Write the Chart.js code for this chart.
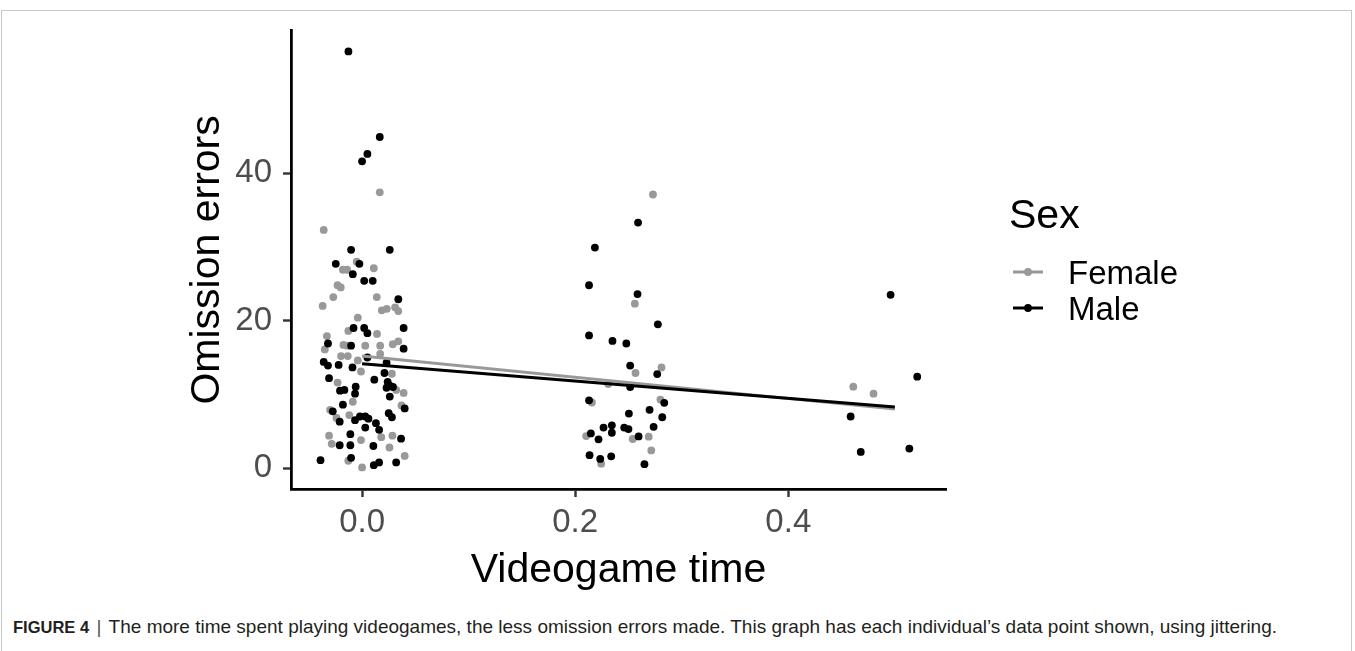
<!DOCTYPE html>
<html>
<head>
<meta charset="utf-8">
<script src="https://cdn.jsdelivr.net/npm/chart.js@4.4.1/dist/chart.umd.min.js"></script>
<style>
  html, body { margin: 0; padding: 0; background: #fff; }
  body { width: 1355px; height: 651px; position: relative; overflow: hidden; font-family: "Liberation Sans", Arial, sans-serif; }
  #frame { position: absolute; left: 1px; top: 10px; width: 1351px; height: 660px; border: 1px solid #c8c8c8; box-sizing: border-box; }
  #wrap { position: absolute; left: 0; top: 0; width: 1355px; height: 600px; }
  #caption { position: absolute; left: 13px; top: 616px; font-size: 19px; color: #231f20; white-space: nowrap; }
  #caption b { font-weight: bold; font-size: 16.5px; }
  #caption .sep { color: #555; padding: 0 2px; }
</style>
</head>
<body>
<div id="frame"></div>
<div id="wrap"><canvas id="c" width="1355" height="600"></canvas></div>
<div id="caption"><b>FIGURE 4</b><span class="sep"> | </span>The more time spent playing videogames, the less omission errors made. This graph has each individual’s data point shown, using jittering.</div>
<script>
// ---- data ----
const seriesNames = ["Female", "Male"];
const femaleX = [0.0166,-0.036,-0.005,-0.018,-0.014,0.011,-0.023,-0.020,-0.027,0.0138,-0.037,0.0185,0.0232,0.031,0.034,-0.004,-0.0129,0.014,-0.033,-0.035,-0.0175,-0.014,0.003,0.017,0.017,0.0288,0.034,-0.0197,-0.0134,-0.004,-0.001,0.028,-0.023,0.032,0.039,-0.0087,0.037,-0.030,-0.012,-0.024,0.018,0.0285,-0.031,-0.0285,-0.001,0.0257,0.040,-0.0129,0.0,
  0.273,0.256,0.2566,0.281,0.231,0.2157,0.28,0.2103,0.254,0.269,0.2714,0.2244,
  0.461,0.480];
const femaleY = [37.4,32.3,28.0,26.9,26.9,27.1,24.8,24.5,23.2,23.2,22.0,21.4,21.6,21.8,21.3,20.4,18.6,18.2,17.9,16.1,16.7,16.6,16.6,16.6,15.5,16.8,17.2,15.2,15.2,14.6,13.1,12.8,11.6,10.6,10.2,9.0,8.5,7.9,7.2,6.8,4.2,4.4,4.4,3.3,3.8,2.8,1.66,1.0,0.1,
  37.1,22.3,12.9,13.65,11.4,8.9,9.3,4.35,3.95,4.27,2.4,0.6,
  11.05,10.1];
const maleX = [-0.0128,0.0166,0.005,0.0,-0.0103,0.026,-0.0247,-0.0025,-0.0087,0.002,0.010,0.034,-0.008,0.002,0.039,0.005,-0.032,-0.0103,0.039,0.005,-0.036,-0.032,-0.022,-0.009,0.023,0.021,-0.031,0.0115,0.024,0.026,0.029,0.023,-0.006,-0.0207,-0.0166,-0.0066,0.026,-0.018,0.040,-0.0275,0.025,0.028,-0.002,0.003,0.006,-0.0066,-0.021,0.013,0.003,0.016,-0.011,-0.021,-0.011,0.0106,0.0366,-0.039,-0.0103,0.011,0.016,0.032,
  0.259,0.2185,0.213,0.2585,0.2776,0.213,0.235,0.248,0.2516,0.277,0.2516,0.213,0.2836,0.2504,0.2698,0.2817,0.2736,0.2266,0.2344,0.2344,0.246,0.250,0.2147,0.2219,0.2595,0.2135,0.2235,0.2338,0.265,
  0.496,0.521,0.4585,0.468,0.5136];
const maleY = [56.5,44.9,42.6,41.6,29.6,29.6,27.7,27.7,26.3,25.4,25.4,22.9,19.0,19.0,19.0,18.3,16.9,16.6,16.2,15.0,14.4,13.9,14.0,13.65,14.3,12.9,12.2,12.0,11.7,11.2,11.0,10.9,11.05,10.5,10.6,10.1,9.7,8.6,8.1,7.7,7.45,6.9,7.0,7.0,6.7,6.5,6.3,6.1,5.5,5.2,4.6,3.1,3.1,3.0,4.0,1.08,1.4,0.4,0.77,0.77,
  33.3,29.9,24.8,23.6,19.5,18.0,17.25,16.9,13.9,12.75,11.0,9.2,8.85,7.4,7.9,6.9,5.6,5.5,5.8,4.8,5.5,5.3,4.7,3.9,4.3,1.75,1.25,1.6,0.54,
  23.5,12.4,7.0,2.2,2.65];
// fitted lines (start, end)
const fitX = [0.0, 0.5];
const femaleFitY = [15.2, 8.0];
const maleFitY = [14.15, 8.3];
// ticks
const xTicks = [0.0, 0.2, 0.4];
const yTicks = [0, 20, 40];
const xTitle = "Videogame time";
const yTitle = "Omission errors";
const legendTitle = "Sex";

const GRAY = "#999999", BLACK = "#000000";
const zip = (xs, ys) => xs.map((x, i) => ({x, y: ys[i]}));

const overlay = {
  id: "overlay",
  afterDraw(chart) {
    const ctx = chart.ctx, a = chart.chartArea;
    ctx.save();
    ctx.fillStyle = "#000";
    ctx.font = "41px 'Liberation Sans', Arial, sans-serif";
    ctx.textAlign = "center";
    ctx.textBaseline = "alphabetic";
    ctx.fillText(xTitle, (a.left + a.right) / 2, 582);
    ctx.save();
    ctx.translate(219, (a.top + a.bottom) / 2);
    ctx.rotate(-Math.PI / 2);
    ctx.fillText(yTitle, 0, 0);
    ctx.restore();
    // legend
    ctx.textAlign = "left";
    ctx.fillText(legendTitle, 1009, 228);
    ctx.font = "33px 'Liberation Sans', Arial, sans-serif";
    const cols = [GRAY, BLACK], ys = [272, 308];
    seriesNames.forEach((n, i) => {
      ctx.strokeStyle = cols[i];
      ctx.lineWidth = 3;
      ctx.beginPath(); ctx.moveTo(1013, ys[i]); ctx.lineTo(1043, ys[i]); ctx.stroke();
      ctx.fillStyle = cols[i];
      ctx.beginPath(); ctx.arc(1028, ys[i], 3.9, 0, Math.PI * 2); ctx.fill();
      ctx.fillStyle = "#000";
      ctx.fillText(n, 1068, ys[i] + 12);
    });
    ctx.restore();
  }
};

new Chart(document.getElementById("c"), {
  type: "scatter",
  data: {
    datasets: [
      { type: "line", label: "Male fit", data: zip(fitX, maleFitY), borderColor: BLACK, borderWidth: 3, pointRadius: 0, fill: false, order: 0 },
      { type: "line", label: "Female fit", data: zip(fitX, femaleFitY), borderColor: GRAY, borderWidth: 3, pointRadius: 0, fill: false, order: 1 },
      { label: "Male", data: zip(maleX, maleY), backgroundColor: BLACK, borderWidth: 0, pointRadius: 3.9, order: 2 },
      { label: "Female", data: zip(femaleX, femaleY), backgroundColor: GRAY, borderWidth: 0, pointRadius: 3.9, order: 3 }
    ]
  },
  options: {
    responsive: false,
    devicePixelRatio: 1,
    animation: false,
    events: [],
    layout: { padding: { left: 0, top: 28, right: 409, bottom: 0 } },
    plugins: { legend: { display: false }, tooltip: { enabled: false } },
    scales: {
      x: {
        type: "linear", min: -0.0667, max: 0.548,
        afterBuildTicks: s => { s.ticks = xTicks.map(v => ({ value: v })); },
        afterFit: s => { s.height = 111; },
        grid: { display: true, drawOnChartArea: false, drawTicks: true, tickLength: 8, tickColor: "#333333", tickWidth: 2.4 },
        border: { display: true, color: "#000", width: 2.8 },
        ticks: { color: "#4d4d4d", padding: 6, font: { family: "'Liberation Sans', Arial, sans-serif", size: 33 }, callback: v => Number(v).toFixed(1), maxRotation: 0 }
      },
      y: {
        type: "linear", min: -2.83, max: 59.3,
        afterBuildTicks: s => { s.ticks = yTicks.map(v => ({ value: v })); },
        afterFit: s => { s.width = 291; },
        grid: { display: true, drawOnChartArea: false, drawTicks: true, tickLength: 8, tickColor: "#333333", tickWidth: 2.4 },
        border: { display: true, color: "#000", width: 2.8 },
        ticks: { color: "#4d4d4d", padding: 11, font: { family: "'Liberation Sans', Arial, sans-serif", size: 33 }, callback: v => String(v) }
      }
    }
  },
  plugins: [overlay]
});
</script>
</body>
</html>
